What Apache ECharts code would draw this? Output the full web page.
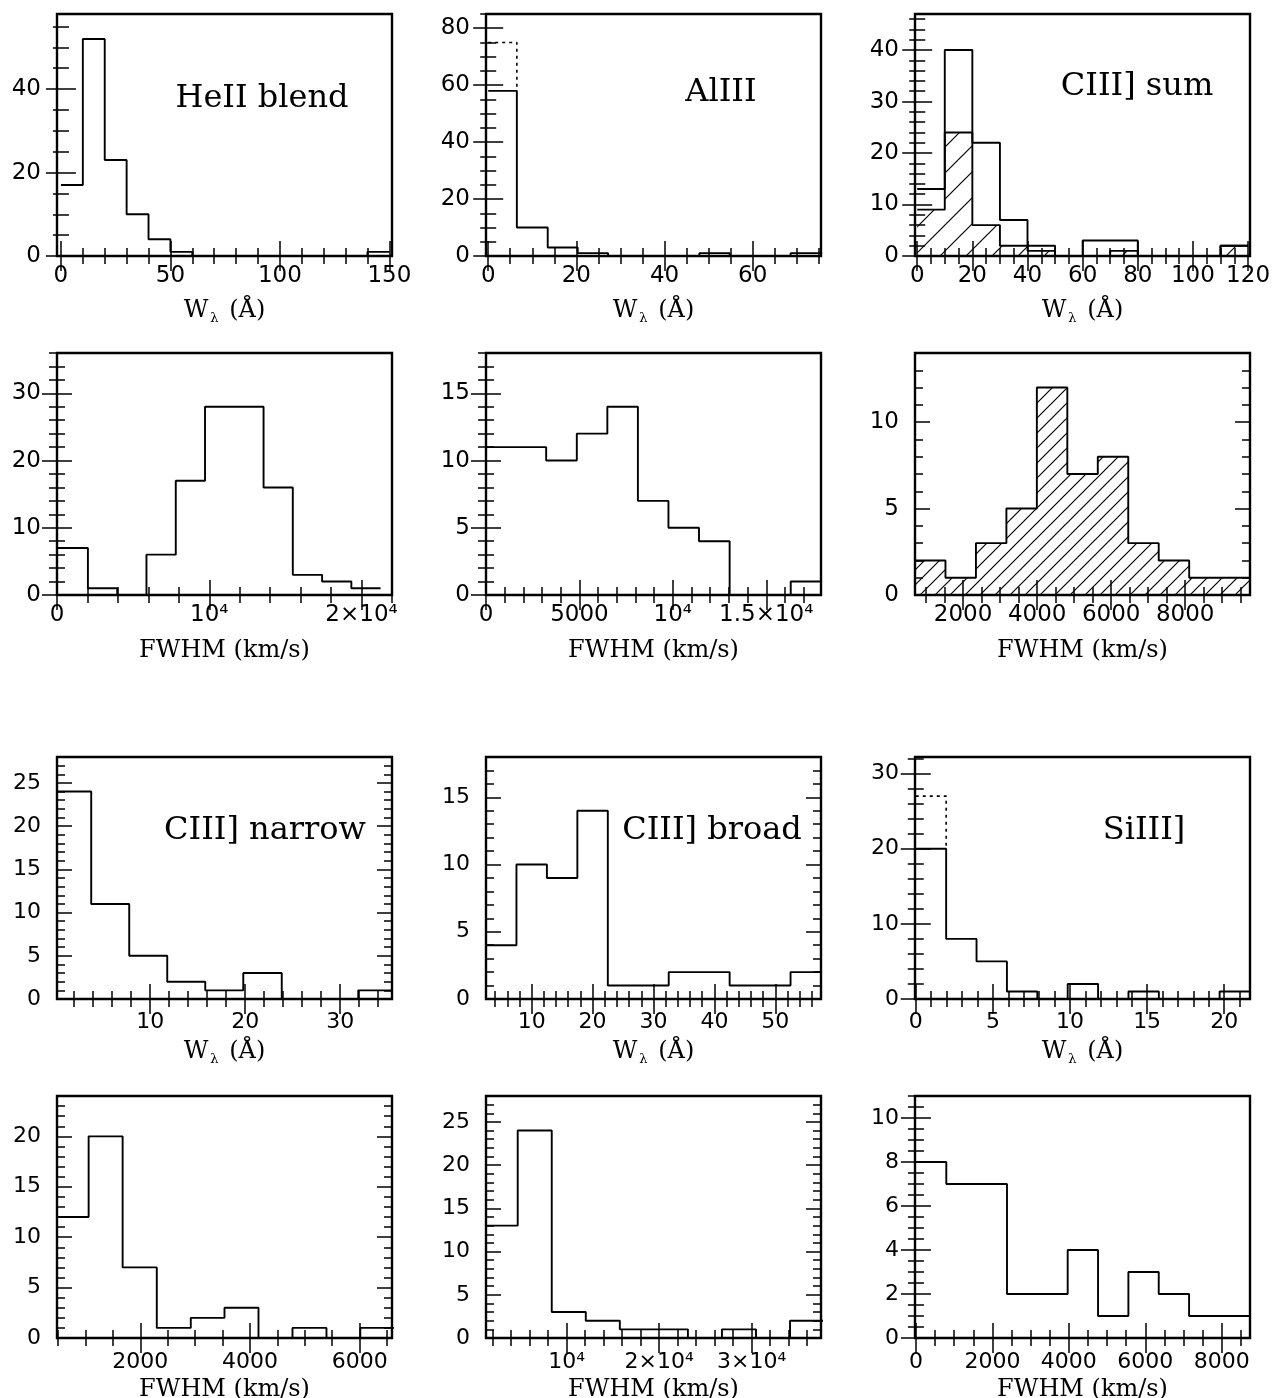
<!DOCTYPE html>
<html><head><meta charset="utf-8">
<script src="https://cdn.jsdelivr.net/npm/echarts@6/dist/echarts.min.js"></script>
<style>html,body{margin:0;padding:0;background:#fff}#c{width:1275px;height:1398px}</style>
</head><body><div id="c"></div>
<script>
// ---------------- DATA ----------------
// Panel: HeII blend, equivalent width
const heW_edges  = [0,10,20,30,40,50,60,70,80,90,100,110,120,130,140,150];
const heW_counts = [17,52,23,10,4,1,0,0,0,0,0,0,0,0,1];
const heW_xrange = [-1.8,151.2], heW_yrange = [0,58];
const heW_xticks = [0,50,100,150], heW_xlabels = ['0','50','100','150'];
const heW_yticks = [0,20,40],      heW_ylabels = ['0','20','40'];

// Panel: AlIII, equivalent width (solid) and upper-limit bin (dotted)
const alW_edges  = [0,6.5,13.5,20.3,27.2,34.1,41.0,47.9,54.8,61.7,68.6,75.5];
const alW_counts = [58,10,3,1,0,0,0,1,0,0,1];
const alW_dotted = [75];
const alW_xrange = [-0.5,75.5], alW_yrange = [0,85];
const alW_xticks = [0,20,40,60],     alW_xlabels = ['0','20','40','60'];
const alW_yticks = [0,20,40,60,80],  alW_ylabels = ['0','20','40','60','80'];

// Panel: CIII] sum, equivalent width (open) and hatched subset
const cW_edges   = [0,10,20,30,40,50,60,70,80,90,100,110,120];
const cW_counts  = [13,40,22,7,2,0,3,3,0,0,0,2];
const cW_hatched = [9,24,6,2,1,0,0,1,0,0,0,2];
const cW_xrange = [-0.8,120.7], cW_yrange = [0,47];
const cW_xticks = [0,20,40,60,80,100,120], cW_xlabels = ['0','20','40','60','80','100','120'];
const cW_yticks = [0,10,20,30,40],         cW_ylabels = ['0','10','20','30','40'];

// Panel: HeII blend, FWHM
const heF_edges  = [0,2030,3955,5875,7800,9720,11640,13565,15485,17410,19330,21250];
const heF_counts = [7,1,0,6,17,28,28,16,3,2,1];
const heF_xrange = [0,22000], heF_yrange = [0,36];
const heF_xticks = [0,10000,20000], heF_xlabels = ['0','10\u2074','2\u00d710\u2074'];
const heF_yticks = [0,10,20,30],    heF_ylabels = ['0','10','20','30'];

// Panel: AlIII, FWHM
const alF_edges  = [0,1590,3220,4860,6495,8130,9765,11400,13040,14675,16310,17945];
const alF_counts = [11,11,10,12,14,7,5,4,0,0,1];
const alF_xrange = [0,17930], alF_yrange = [0,18];
const alF_xticks = [0,5000,10000,15000], alF_xlabels = ['0','5000','10\u2074','1.5\u00d710\u2074'];
const alF_yticks = [0,5,10,15],          alF_ylabels = ['0','5','10','15'];

// Panel: CIII], FWHM (hatched)
const cF_edges  = [700,1523,2346,3169,3992,4815,5638,6461,7284,8107,8930,9753];
const cF_counts = [2,1,3,5,12,7,8,3,2,1,1];
const cF_xrange = [700,9750], cF_yrange = [0,14];
const cF_xticks = [2000,4000,6000,8000], cF_xlabels = ['2000','4000','6000','8000'];
const cF_yticks = [0,5,10],              cF_ylabels = ['0','5','10'];

// Panel: CIII] narrow, equivalent width
const nW_edges  = [0.2,3.8,7.8,11.8,15.8,19.8,23.85,27.9,31.9,35.45];
const nW_counts = [24,11,5,2,1,3,0,0,1];
const nW_xrange = [0.2,35.45], nW_yrange = [0,28];
const nW_xticks = [10,20,30],          nW_xlabels = ['10','20','30'];
const nW_yticks = [0,5,10,15,20,25],   nW_ylabels = ['0','5','10','15','20','25'];

// Panel: CIII] broad, equivalent width
const bW_edges  = [2.5,7.5,12.5,17.5,22.5,27.5,32.5,37.5,42.5,47.5,52.5,57.5];
const bW_counts = [4,10,9,14,1,1,2,2,1,1,2];
const bW_xrange = [2.5,57.5], bW_yrange = [0,18];
const bW_xticks = [10,20,30,40,50], bW_xlabels = ['10','20','30','40','50'];
const bW_yticks = [0,5,10,15],      bW_ylabels = ['0','5','10','15'];

// Panel: SiIII], equivalent width (solid) and upper-limit bin (dotted)
const sW_edges  = [0,1.97,3.94,5.91,7.88,9.85,11.82,13.79,15.76,17.73,19.7,21.67];
const sW_counts = [20,8,5,1,0,2,0,1,0,0,1];
const sW_dotted = [27];
const sW_xrange = [-0.05,21.67], sW_yrange = [0,32.2];
const sW_xticks = [0,5,10,15,20], sW_xlabels = ['0','5','10','15','20'];
const sW_yticks = [0,10,20,30],   sW_ylabels = ['0','10','20','30'];

// Panel: CIII] narrow, FWHM
const nF_edges  = [438,1057,1677,2300,2920,3535,4155,4775,5395,6012,6631];
const nF_counts = [12,20,7,1,2,3,0,1,0,1];
const nF_xrange = [480,6590], nF_yrange = [0,24];
const nF_xticks = [2000,4000,6000],  nF_xlabels = ['2000','4000','6000'];
const nF_yticks = [0,5,10,15,20],    nF_ylabels = ['0','5','10','15','20'];

// Panel: CIII] broad, FWHM
const bF_edges  = [1023,4703,8383,12063,15743,19423,23103,26783,30463,34143,37823];
const bF_counts = [13,24,3,2,1,1,0,1,0,2];
const bF_xrange = [1276,37490], bF_yrange = [0,28];
const bF_xticks = [10000,20000,30000], bF_xlabels = ['10\u2074','2\u00d710\u2074','3\u00d710\u2074'];
const bF_yticks = [0,5,10,15,20,25],   bF_ylabels = ['0','5','10','15','20','25'];

// Panel: SiIII], FWHM
const sF_edges  = [0,794,1588,2382,3176,3970,4764,5558,6352,7146,7940,8734];
const sF_counts = [8,7,7,2,2,4,1,3,2,1,1];
const sF_xrange = [-25,8740], sF_yrange = [0,11];
const sF_xticks = [0,2000,4000,6000,8000], sF_xlabels = ['0','2000','4000','6000','8000'];
const sF_yticks = [0,2,4,6,8,10],          sF_ylabels = ['0','2','4','6','8','10'];

const titles = ['HeII blend','AlIII','CIII] sum','','','','CIII] narrow','CIII] broad','SiIII]','','',''];

// ---------------- LAYOUT / STYLE ----------------
const colLeft = [57, 486, 915];
const rowTop  = [14, 353, 757, 1096];
const boxW = 335, boxH = 242;
const nameGapRow = [41, 44, 39, 40];
const labelMarginRow = [9, 9, 12, 13];
const tickFontRow = [23, 23, 22, 22];
const titlePos = [[262,99],[721,93],[1137,87],null,null,null,[265,831],[712,831],[1144,831],null,null,null];

function makeHatch(step) {
  const c = document.createElement('canvas');
  c.width = step; c.height = step;
  const g = c.getContext('2d');
  g.strokeStyle = '#000'; g.lineWidth = 1.2;
  g.beginPath();
  g.moveTo(0, step); g.lineTo(step, 0);
  g.moveTo(-2, 2); g.lineTo(2, -2);
  g.moveTo(step - 2, step + 2); g.lineTo(step + 2, step - 2);
  g.stroke();
  return c;
}

const panels = [
  {e:heW_edges,c:heW_counts,xr:heW_xrange,yr:heW_yrange,xt:heW_xticks,xl:heW_xlabels,yt:heW_yticks,yl:heW_ylabels,xm:10,ym:5,kind:'W'},
  {e:alW_edges,c:alW_counts,d:alW_dotted,xr:alW_xrange,yr:alW_yrange,xt:alW_xticks,xl:alW_xlabels,yt:alW_yticks,yl:alW_ylabels,xm:5,ym:5,kind:'W'},
  {e:cW_edges,c:cW_counts,h:cW_hatched,hs:26,xr:cW_xrange,yr:cW_yrange,xt:cW_xticks,xl:cW_xlabels,yt:cW_yticks,yl:cW_ylabels,xm:5,ym:2,kind:'W'},
  {e:heF_edges,c:heF_counts,xr:heF_xrange,yr:heF_yrange,xt:heF_xticks,xl:heF_xlabels,yt:heF_yticks,yl:heF_ylabels,xm:2000,ym:2,kind:'F'},
  {e:alF_edges,c:alF_counts,xr:alF_xrange,yr:alF_yrange,xt:alF_xticks,xl:alF_xlabels,yt:alF_yticks,yl:alF_ylabels,xm:1000,ym:1,kind:'F'},
  {e:cF_edges,c:null,h:cF_counts,hs:15,xr:cF_xrange,yr:cF_yrange,xt:cF_xticks,xl:cF_xlabels,yt:cF_yticks,yl:cF_ylabels,xm:500,ym:1,kind:'F'},
  {e:nW_edges,c:nW_counts,xr:nW_xrange,yr:nW_yrange,xt:nW_xticks,xl:nW_xlabels,yt:nW_yticks,yl:nW_ylabels,xm:2,ym:1,kind:'W'},
  {e:bW_edges,c:bW_counts,xr:bW_xrange,yr:bW_yrange,xt:bW_xticks,xl:bW_xlabels,yt:bW_yticks,yl:bW_ylabels,xm:2,ym:1,kind:'W'},
  {e:sW_edges,c:sW_counts,d:sW_dotted,xr:sW_xrange,yr:sW_yrange,xt:sW_xticks,xl:sW_xlabels,yt:sW_yticks,yl:sW_ylabels,xm:1,ym:2,kind:'W'},
  {e:nF_edges,c:nF_counts,xr:nF_xrange,yr:nF_yrange,xt:nF_xticks,xl:nF_xlabels,yt:nF_yticks,yl:nF_ylabels,xm:500,ym:1,kind:'F'},
  {e:bF_edges,c:bF_counts,xr:bF_xrange,yr:bF_yrange,xt:bF_xticks,xl:bF_xlabels,yt:bF_yticks,yl:bF_ylabels,xm:2000,ym:1,kind:'F'},
  {e:sF_edges,c:sF_counts,xr:sF_xrange,yr:sF_yrange,xt:sF_xticks,xl:sF_xlabels,yt:sF_yticks,yl:sF_ylabels,xm:500,ym:0.5,kind:'F'}
];

function stepPoints(edges, counts) {
  const pts = [];
  for (let i = 0; i < counts.length; i++) {
    pts.push([edges[i], counts[i]]);
    pts.push([edges[i + 1], counts[i]]);
  }
  return pts;
}
function minorValues(r, step) {
  const out = [];
  let k = Math.ceil(r[0] / step - 1e-9);
  for (; k * step <= r[1] + 1e-9; k++) out.push(+(k * step).toFixed(6));
  return out;
}

const TICK = {color:'#000', width:1.5};
const grids = [], xAxes = [], yAxes = [], series = [], graphics = [];

function addAxisPair(list, gi, pos, range, majors, labels, minorStep, showLabels, extra) {
  const idx = list.length;
  const fmt = v => { const i = majors.findIndex(m => Math.abs(m - v) < 1e-6); return i >= 0 ? labels[i] : ''; };
  list.push(Object.assign({
    type:'value', gridIndex:gi, position:pos, min:range[0], max:range[1],
    axisLine:{show:false}, splitLine:{show:false},
    axisTick:{show:true, inside:true, length:15, customValues:majors, lineStyle:TICK},
    axisLabel:{show:showLabels, customValues:majors, formatter:fmt, color:'#000',
               fontFamily:'DejaVu Sans', fontSize:23, margin:16}
  }, extra || {}));
  list.push({
    type:'value', gridIndex:gi, position:pos, min:range[0], max:range[1],
    axisLine:{show:false}, splitLine:{show:false},
    axisTick:{show:true, inside:true, length:8, customValues:minorValues(range, minorStep), lineStyle:TICK},
    axisLabel:{show:false}
  });
  return idx;
}

panels.forEach((p, gi) => {
  const row = Math.floor(gi / 3), col = gi % 3;
  grids.push({left:colLeft[col], top:rowTop[row], width:boxW, height:boxH, show:true,
              containLabel:false, outerBoundsMode:'none',
              borderColor:'#000', borderWidth:2.4, backgroundColor:'transparent'});
  const nameW = '{a|W}{b|\u03bb}{a| (\u00c5)}';
  const nameF = '{a|FWHM (km/s)}';
  const xi = addAxisPair(xAxes, gi, 'bottom', p.xr, p.xt, p.xl, p.xm, true, {
    name: p.kind === 'W' ? nameW : nameF, nameLocation:'middle', nameGap:nameGapRow[row],
    nameTextStyle:{color:'#000', rich:{
      a:{fontFamily:'DejaVu Serif', fontSize:24, color:'#000'},
      b:{fontFamily:'DejaVu Serif', fontSize:13, color:'#000', padding:[15,3,0,2]}
    }}
  });
  xAxes[xi].axisLabel.margin = labelMarginRow[row];
  xAxes[xi].axisLabel.fontSize = tickFontRow[row];
  addAxisPair(xAxes, gi, 'top', p.xr, p.xt, p.xl, p.xm, false);
  const yi = addAxisPair(yAxes, gi, 'left', p.yr, p.yt, p.yl, p.ym, true);
  yAxes[yi].axisLabel.fontSize = tickFontRow[row];
  addAxisPair(yAxes, gi, 'right', p.yr, p.yt, p.yl, p.ym, false);

  if (p.h) {
    series.push({type:'line', xAxisIndex:xi, yAxisIndex:yi, data:stepPoints(p.e, p.h),
      symbol:'none', silent:true, animation:false, clip:true,
      lineStyle:{color:'#000', width:1.9},
      areaStyle:{color:{image:makeHatch(p.hs), repeat:'repeat'}, opacity:1}});
  }
  if (p.c) {
    series.push({type:'line', xAxisIndex:xi, yAxisIndex:yi, data:stepPoints(p.e, p.c),
      symbol:'none', silent:true, animation:false, clip:true,
      lineStyle:{color:'#000', width:1.9}});
  }
  if (p.d) {
    series.push({type:'line', xAxisIndex:xi, yAxisIndex:yi,
      data:[[p.e[0], p.d[0]], [p.e[1], p.d[0]], [p.e[1], p.c[0]]],
      symbol:'none', silent:true, animation:false, clip:true,
      lineStyle:{color:'#000', width:1.6, type:[3,4]}});
  }
  if (titles[gi]) {
    graphics.push({type:'text', x:titlePos[gi][0], y:titlePos[gi][1], silent:true,
      style:{text:titles[gi], fill:'#000', font:'32px "DejaVu Serif"',
             align:'center', verticalAlign:'middle', textAlign:'center', textVerticalAlign:'middle'}});
  }
});

const chart = echarts.init(document.getElementById('c'), null, {renderer:'canvas'});
chart.setOption({
  animation:false,
  backgroundColor:'#fff',
  grid:grids, xAxis:xAxes, yAxis:yAxes, series:series, graphic:graphics
});
</script></body></html>
